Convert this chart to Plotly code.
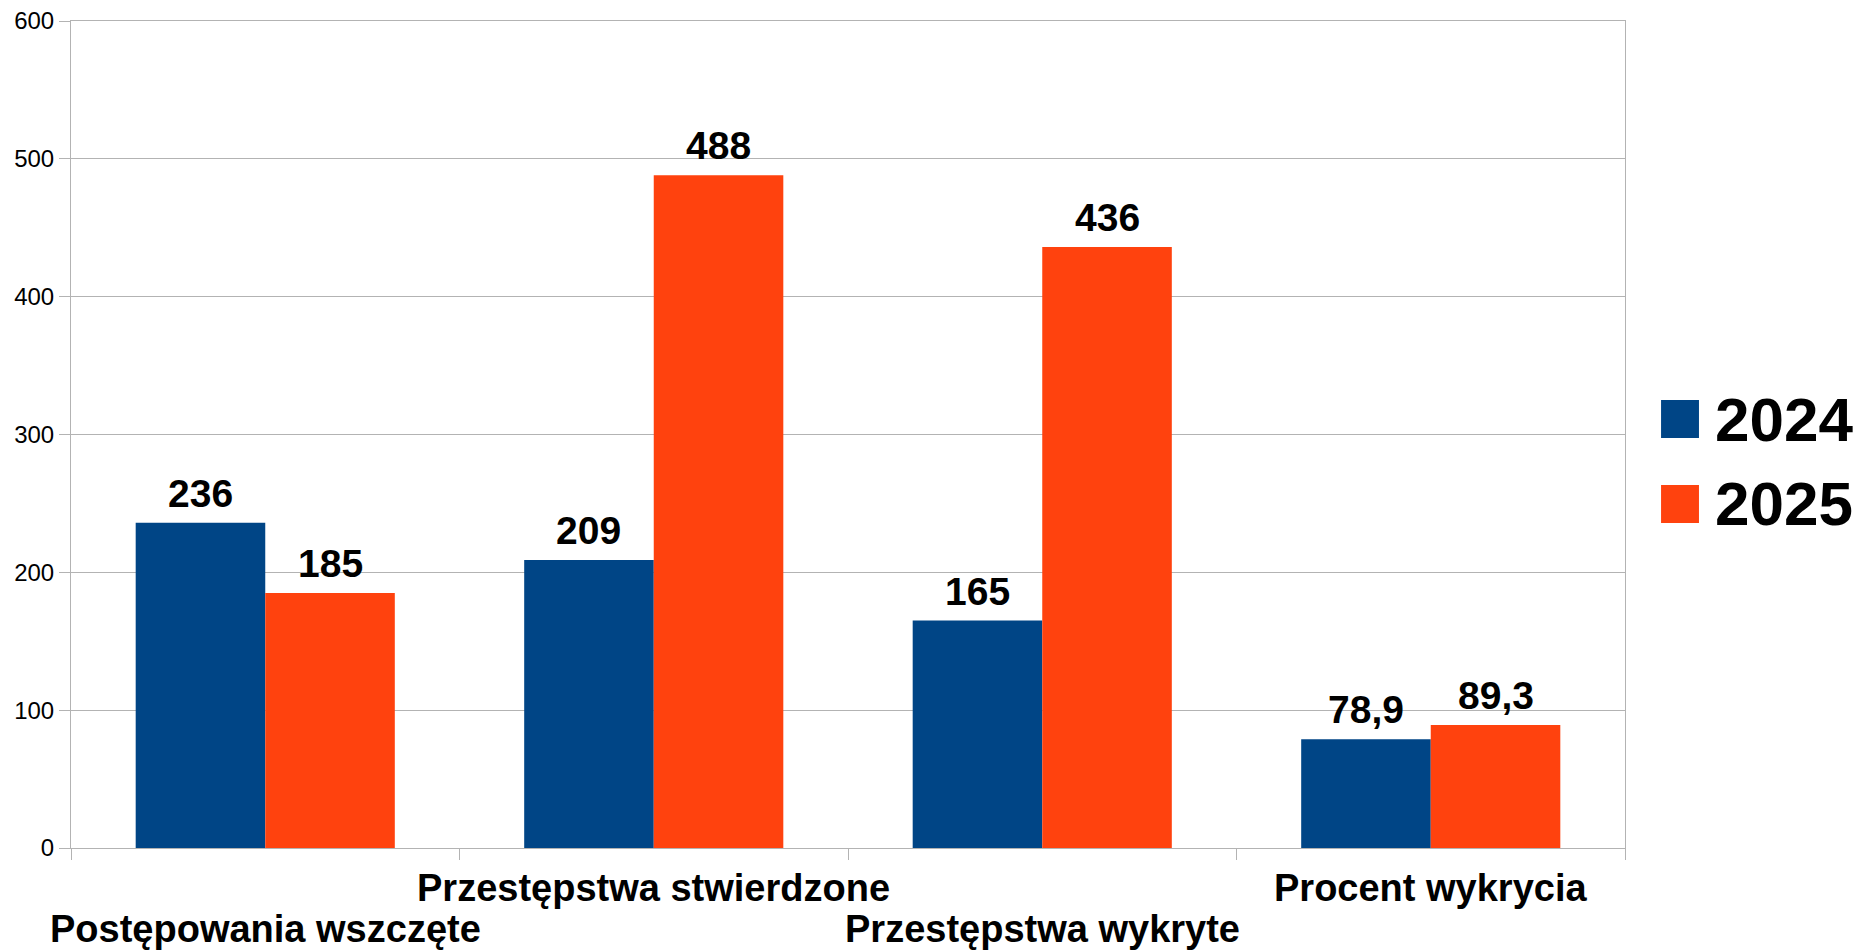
import plotly.graph_objects as go

categories = ["Postępowania wszczęte", "Przestępstwa stwierdzone", "Przestępstwa wykryte", "Procent wykrycia"]
label_row = [1, 0, 1, 0]  # 0 = upper row, 1 = lower row (staggered labels)
values_2024 = [236, 209, 165, 78.9]
values_2025 = [185, 488, 436, 89.3]
series_names = ["2024", "2025"]
colors = ["#004586", "#ff420e"]

def fmt(v):
    s = ("%g" % v)
    return s.replace(".", ",")

FONT = "Liberation Sans, Arial, sans-serif"
W, H = 1853, 942  # page body has an 8px margin

fig = go.Figure()
for name, vals, col in zip(series_names, [values_2024, values_2025], colors):
    fig.add_trace(go.Bar(
        name=name, x=categories, y=vals,
        marker=dict(color=col, line=dict(width=0)),
        showlegend=False,
    ))

fig.update_layout(
    width=W, height=H,
    margin=dict(l=63, r=236, t=13, b=102, autoexpand=False),
    paper_bgcolor="white", plot_bgcolor="white",
    barmode="group", bargap=0.333, bargroupgap=0,
    font=dict(family=FONT, color="black"),
)
fig.update_xaxes(
    type="category", range=[-0.5, len(categories) - 0.5], autorange=False,
    showticklabels=False, automargin=False,
    showline=True, linecolor="#b3b3b3", linewidth=1, mirror=True,
    ticks="outside", tickson="boundaries", ticklen=11, tickcolor="#b3b3b3",
    showgrid=False,
)
fig.update_yaxes(
    range=[0, 600], autorange=False, dtick=100, automargin=False,
    ticklabeloverflow="allow",
    tickfont=dict(family=FONT, size=24, color="black"),
    showline=True, linecolor="#b3b3b3", linewidth=1, mirror=True,
    ticks="outside", ticklen=11, tickcolor="#b3b3b3",
    showgrid=True, gridcolor="#b3b3b3", gridwidth=1, zeroline=False,
)

# staggered category labels
for cat, row in zip(categories, label_row):
    fig.add_annotation(x=cat, xref="x", y=0, yref="paper", text=cat, showarrow=False,
                       xanchor="center", yanchor="middle", yshift=-40 - 41 * row,
                       font=dict(family=FONT, size=38, color="black", weight="bold"))

# value labels above each bar
half = (W - 63 - 236) / len(categories) * (1 - 0.333) / 4
for vals, sgn in zip([values_2024, values_2025], [-1, 1]):
    for cat, v in zip(categories, vals):
        fig.add_annotation(x=cat, xref="x", y=v, yref="y", text=fmt(v), showarrow=False,
                           xanchor="center", yanchor="bottom", xshift=sgn * half, yshift=6,
                           font=dict(family=FONT, size=39, color="black", weight="bold"))

# manual legend with large swatches
leg = [(0.4958, 0.5417, 0.5187), (0.393, 0.4389, 0.416)]
for (y0, y1, yt), name, col in zip(leg, series_names, colors):
    fig.add_shape(type="rect", xref="paper", yref="paper", x0=1.0232, x1=1.0476,
                  y0=y0, y1=y1, fillcolor=col, line=dict(width=0))
    fig.add_annotation(xref="paper", yref="paper", x=1.0566, y=yt, text=name,
                       showarrow=False, xanchor="left", yanchor="middle",
                       font=dict(family=FONT, size=62, color="black", weight="bold"))

fig.write_html("out.html")
